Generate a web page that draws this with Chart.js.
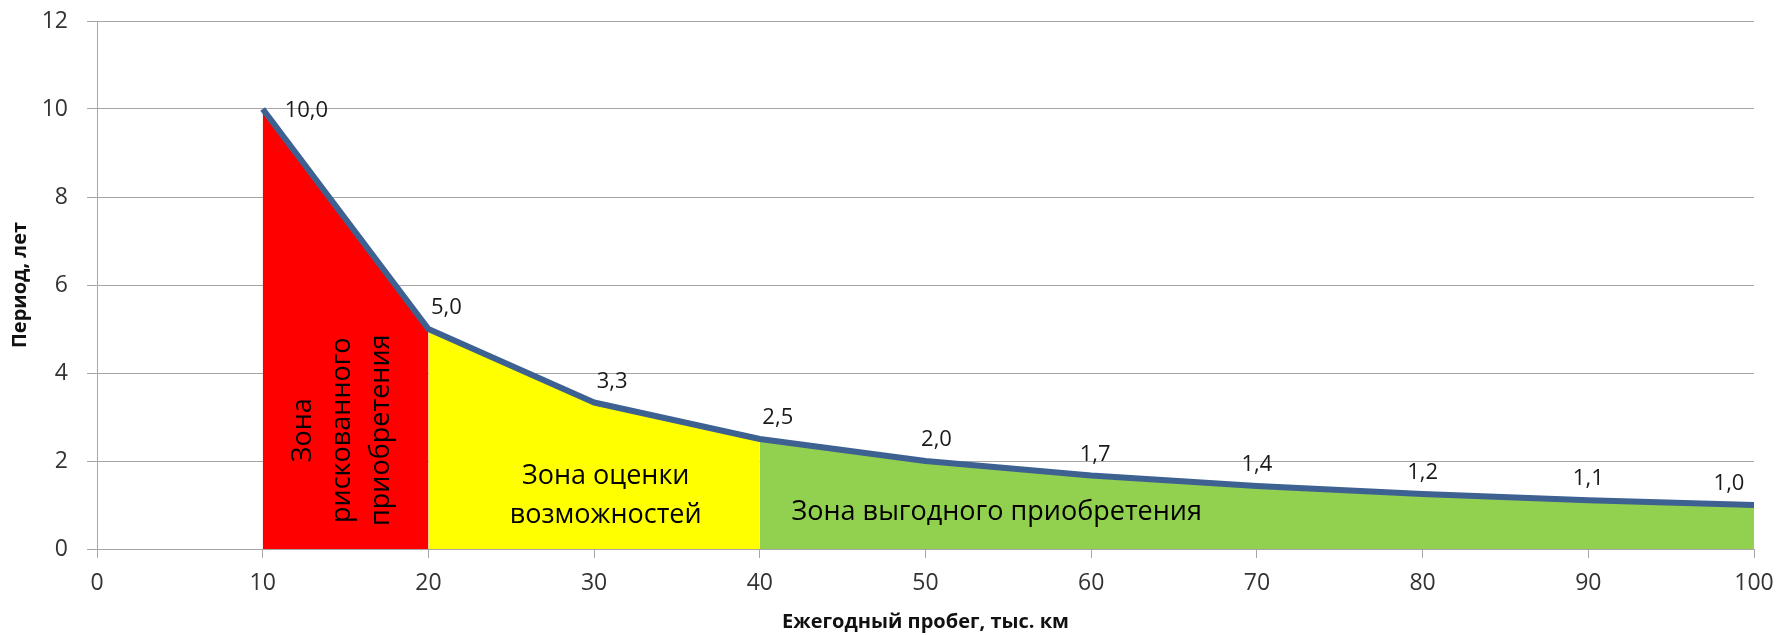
<!DOCTYPE html>
<html>
<head>
<meta charset="utf-8">
<script src="https://cdn.jsdelivr.net/npm/chart.js@4.4.1/dist/chart.umd.min.js"></script>
<style>
  html, body { margin: 0; padding: 0; background: #ffffff; }
  #wrap { width: 1777px; height: 635px; }
</style>
</head>
<body>
<div id="wrap"><canvas id="c" width="1777" height="635"></canvas></div>
<script>
// ---- data ----
const mileage = [10, 20, 30, 40, 50, 60, 70, 80, 90, 100];               // тыс. км
const period  = [10.0, 5.0, 3.33, 2.5, 2.0, 1.67, 1.43, 1.25, 1.11, 1.0]; // лет
const valueLabels = ['10,0', '5,0', '3,3', '2,5', '2,0', '1,7', '1,4', '1,2', '1,1', '1,0'];
const xTickValues = [0, 10, 20, 30, 40, 50, 60, 70, 80, 90, 100];
const yTickValues = [0, 2, 4, 6, 8, 10, 12];
const riskZone = [10, 20];
const evalZone = [20, 40];
const goodZone = [40, 100];
const xTitle = 'Ежегодный пробег, тыс. км';
const yTitle = 'Период, лет';
const zoneTexts = [
  ['Зона', 'рискованного', 'приобретения'],
  ['Зона оценки', 'возможностей'],
  ['Зона выгодного приобретения']
];

const FONT = '"Open Sans", "Noto Sans", sans-serif';

function pts(range) {
  const out = [];
  mileage.forEach((m, i) => { if (m >= range[0] && m <= range[1]) out.push({x: m, y: period[i]}); });
  return out;
}
const allPts = mileage.map((m, i) => ({x: m, y: period[i]}));

const annotPlugin = {
  id: 'annot',
  afterDatasetsDraw(chart) {
    const {ctx, scales: {x, y}} = chart;
    ctx.save();
    // zone captions
    ctx.fillStyle = '#000000';
    ctx.font = '27px ' + FONT;
    ctx.textAlign = 'center';
    ctx.textBaseline = 'middle';
    const lh = 39;
    {
      const cx = x.getPixelForValue(14.8), cy = y.getPixelForValue(2.7);
      const lines = zoneTexts[0];
      ctx.save();
      ctx.translate(cx, cy);
      ctx.rotate(-Math.PI / 2);
      lines.forEach((t, k) => ctx.fillText(t, 0, (k - (lines.length - 1) / 2) * lh));
      ctx.restore();
    }
    {
      const cx = x.getPixelForValue(30.7), cy = y.getPixelForValue(1.22);
      const lines = zoneTexts[1];
      lines.forEach((t, k) => ctx.fillText(t, cx, cy + (k - (lines.length - 1) / 2) * lh));
    }
    {
      const cx = x.getPixelForValue(54.3), cy = y.getPixelForValue(0.83);
      ctx.fillText(zoneTexts[2][0], cx, cy);
    }
    // value labels
    ctx.font = '22px ' + FONT;
    ctx.fillStyle = '#1a1a1a';
    const n = mileage.length;
    mileage.forEach((m, i) => {
      const px = x.getPixelForValue(m), py = y.getPixelForValue(period[i]);
      if (i === 0) {
        ctx.textAlign = 'left';
        ctx.fillText(valueLabels[i], px + 22, py + 2);
      } else {
        let dx = 0;
        if (i <= 3) dx = 18; else if (i === 4) dx = 11; else if (i === 5) dx = 4;
        else if (i === n - 1) dx = -25;
        ctx.textAlign = 'center';
        ctx.fillText(valueLabels[i], px + dx, py - 21);
      }
    });
    ctx.restore();
  }
};

new Chart(document.getElementById('c'), {
  type: 'line',
  data: {
    datasets: [
      { data: allPts, borderColor: '#3D6191', borderWidth: 6, pointRadius: 0, fill: false,
        tension: 0, order: 0, borderCapStyle: 'butt', borderJoinStyle: 'round' },
      { data: pts(riskZone), borderWidth: 0, pointRadius: 0, fill: 'origin',
        backgroundColor: '#FF0000', order: 1 },
      { data: pts(evalZone), borderWidth: 0, pointRadius: 0, fill: 'origin',
        backgroundColor: '#FFFF00', order: 1 },
      { data: pts(goodZone), borderWidth: 0, pointRadius: 0, fill: 'origin',
        backgroundColor: '#92D050', order: 1 }
    ]
  },
  options: {
    responsive: false,
    animation: false,
    events: [],
    layout: { padding: { left: 7, right: 23, top: 21, bottom: 0 } },
    plugins: { legend: { display: false }, tooltip: { enabled: false } },
    scales: {
      x: {
        type: 'linear', min: 0, max: 100,
        afterBuildTicks(s) { s.ticks = xTickValues.map(v => ({value: v})); },
        afterFit(s) { s.height = 635 - 549; s.paddingLeft = 0; s.paddingRight = 0; },
        grid: { drawOnChartArea: false, drawTicks: true, tickLength: 9, color: '#a6a6a6', lineWidth: 1 },
        border: { display: true, color: '#a6a6a6', width: 1 },
        ticks: { padding: 12, color: '#333333', font: { family: FONT, size: 23 }, maxRotation: 0 },
        title: { display: true, text: xTitle, color: '#111111', padding: 0,
                 font: { family: FONT, size: 20, weight: 'bold', lineHeight: 1.3 } }
      },
      y: {
        type: 'linear', min: 0, max: 12,
        afterBuildTicks(s) { s.ticks = yTickValues.map(v => ({value: v})); },
        afterFit(s) { s.width = 97 - 7; s.paddingTop = 0; s.paddingBottom = 0; },
        grid: { drawOnChartArea: true, drawTicks: true, tickLength: 10, color: '#a6a6a6', lineWidth: 1 },
        border: { display: true, color: '#a6a6a6', width: 1 },
        ticks: { padding: 19, color: '#333333', font: { family: FONT, size: 23 } },
        title: { display: true, text: yTitle, color: '#111111', padding: 0,
                 font: { family: FONT, size: 20, weight: 'bold', lineHeight: 1.3 } }
      }
    }
  },
  plugins: [annotPlugin]
});
</script>
</body>
</html>
